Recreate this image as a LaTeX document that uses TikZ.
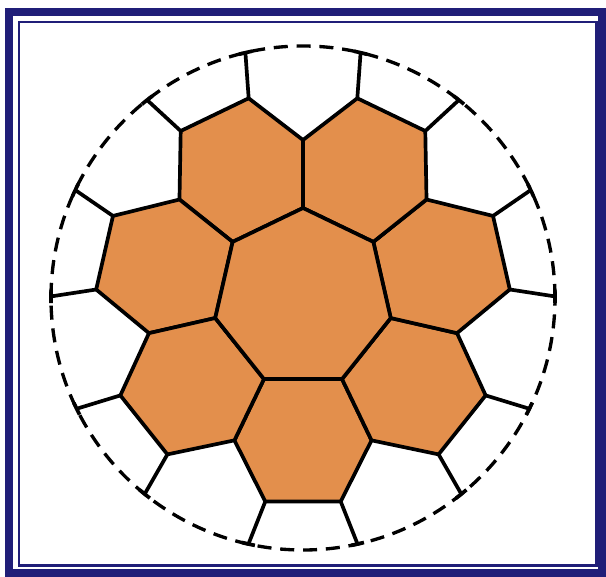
\documentclass[tikz,border=0pt]{standalone}
\usepackage{xcolor}
\usepackage{tikz}
\definecolor{cellorange}{RGB}{227,143,76}
\definecolor{framenavy}{RGB}{32,30,120}

\begin{document}
\begin{tikzpicture}[x=0.02cm, y=0.02cm,
  cell/.style={draw=black, fill=cellorange, line width=2.1pt, line join=round},
  wall/.style={draw=black, line width=2.1pt},
  rim/.style={draw=black, line width=1.9pt, dash pattern=on 8pt off 5pt}]
\useasboundingbox (-303,-278) rectangle (303,298);

% double frame
\draw[framenavy, line width=4.5pt] (-294,286) rectangle (299,-275);
\draw[framenavy, line width=1.7pt] (-284,276) rectangle (293.5,-267.5);

% corner points of the cells
\foreach \k in {0,...,6} {
  \pgfmathsetmacro\d{270+51.4286*\k}
  \coordinate (v\k) at ({\d-25.714}:90);
  \coordinate (j\k) at ({\d-25.714}:158);
  \coordinate (a\k) at ({\d-10.5}:207);
  \coordinate (b\k) at ({\d+10.5}:207);
  \coordinate (ea\k) at ({\d-12.5}:252);
  \coordinate (eb\k) at ({\d+12.5}:252);
}

% dashed outline
\draw[rim] (0,0) circle[radius=252];

% ring of hexagons and the walls to the outline
\foreach \k in {0,...,6} {
  \pgfmathtruncatemacro\n{mod(\k+1,7)}
  \draw[cell] (v\k) -- (j\k) -- (a\k) -- (b\k) -- (j\n) -- (v\n) -- cycle;
  \draw[wall] (a\k) -- (ea\k);
  \draw[wall] (b\k) -- (eb\k);
}

% central heptagon
\draw[cell] (v0) -- (v1) -- (v2) -- (v3) -- (v4) -- (v5) -- (v6) -- cycle;

% short solid pieces where the walls meet the outline
\foreach \k in {0,...,6} {
  \pgfmathsetmacro\d{270+51.4286*\k}
  \draw[wall] ({\d-14}:252) arc[start angle=\d-14, end angle=\d-11, radius=252];
  \draw[wall] ({\d+11}:252) arc[start angle=\d+11, end angle=\d+14, radius=252];
}
\end{tikzpicture}
\end{document}
